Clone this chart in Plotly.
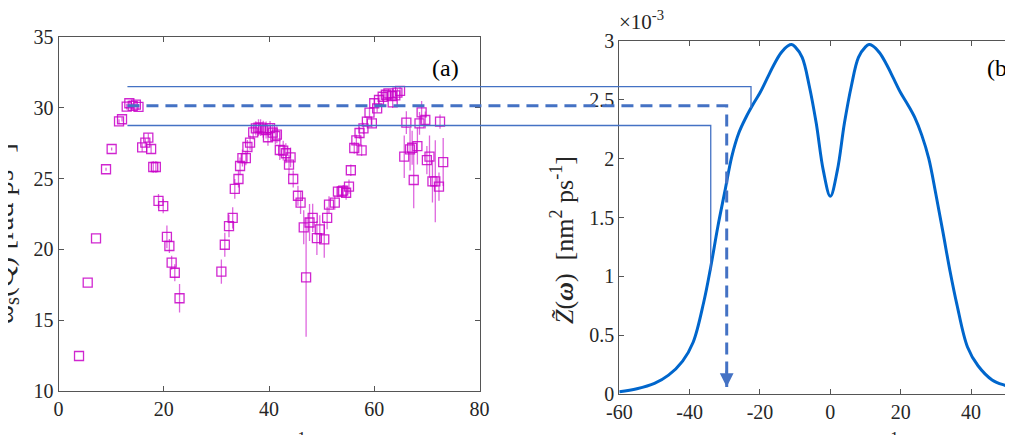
import plotly.graph_objects as go

# reference window size; the page body adds an 8px margin, so the figure is that much smaller
W, H = 1013, 435
OFF = 8
FW, FH = W - OFF, H - OFF

# ---- panel (a): dispersion data, Q [nm^-1] vs omega_s [rad/ps]
q_vals = [3.9, 5.55, 7.13, 9.03, 10.1, 11.5, 12.07, 12.96, 13.46, 14.1, 14.7, 15.2,
          15.9, 16.5, 17.07, 17.6, 18.0, 18.5, 19.0, 19.9, 20.6, 21.07, 21.5, 22.1, 23.0,
          30.95, 31.6, 32.4, 33.1, 33.5, 34.2, 34.5, 34.95, 35.6, 35.9, 36.4, 37.0, 37.5,
          38.0, 38.4, 38.9, 39.45, 39.8, 40.2, 40.7, 41.2, 41.5, 42.05, 42.7, 43.2, 43.8,
          44.1, 44.6, 45.5, 46.0, 46.6, 47.05, 47.7, 48.3, 49.1, 49.65, 50.5, 51.05, 51.4,
          52.5, 53.1, 53.8, 54.1, 54.65, 55.2, 55.55, 56.2, 56.6, 57.2, 57.6, 57.95, 58.6,
          59.1, 59.55, 60.0, 60.55, 60.9, 61.6, 62.2, 62.7, 63.35, 63.5, 64.0, 64.4, 64.9,
          65.7, 66.1, 66.8, 67.2, 67.5, 68.2, 68.6, 69.0, 69.7, 70.0, 70.5, 71.06, 71.6,
          72.3, 72.5, 73.1]
w_vals = [12.47, 17.65, 20.78, 25.66, 27.09, 29.04, 29.19, 30.08, 30.32, 30.13, 30.22, 30.06,
          27.2, 27.54, 27.89, 27.09, 25.82, 25.82, 23.42, 23.06, 20.88, 20.24, 19.06, 18.35, 16.55,
          18.43, 20.33, 21.65, 22.22, 24.27, 24.97, 25.89, 26.45, 26.45, 27.23, 27.54, 28.27, 28.55,
          28.6, 28.6, 28.48, 28.43, 27.92, 28.57, 28.24, 28.0, 28.1, 27.02, 26.97, 26.79, 25.98,
          26.5, 24.97, 23.79, 23.3, 21.56, 18.03, 21.9, 22.22, 20.8, 21.42, 20.71, 22.22, 23.16,
          23.3, 24.08, 24.08, 24.15, 24.0, 24.43, 25.59, 27.16, 27.7, 28.22, 27.0, 28.55, 29.02,
          29.66, 28.9, 30.32, 29.96, 30.55, 30.78, 30.92, 31.02, 30.83, 30.39, 30.88, 31.07, 31.19,
          26.55, 28.95, 27.07, 27.18, 24.9, 27.3, 28.9, 29.68, 29.14, 26.31, 26.55, 24.81, 24.81,
          24.43, 29.02, 26.17]
w_err = [0, 0, 0, 0.1, 0.1, 0.15, 0.15, 0.2, 0.2, 0.2, 0.2, 0.2,
         0.3, 0.3, 0.3, 0.3, 0.4, 0.4, 0.5, 0.5, 0.8, 0.5, 0.5, 0.6, 1.0,
         0.85, 0.85, 0.8, 0.75, 0.7, 0.6, 0.6, 0.6, 0.5, 0.5, 0.5, 0.5, 0.5,
         0.6, 0.6, 0.6, 0.6, 0.6, 0.5, 0.6, 0.6, 0.6, 0.7, 0.7, 0.7, 0.7,
         0.7, 0.6, 0.7, 0.8, 1.2, 4.2, 1.3, 1.0, 1.2, 1.0, 1.3, 0.8, 0.6,
         0.5, 0.4, 0.4, 0.4, 0.5, 0.5, 0.4, 0.4, 0.4, 0.4, 0.4, 0.4, 0.3,
         0.3, 0.3, 0.3, 0.3, 0.3, 0.3, 0.3, 0.3, 0.3, 0.4, 0.3, 0.3, 0.3,
         1.5, 0.8, 1.5, 1.2, 2.0, 1.3, 0.8, 0.8, 0.6, 1.0, 1.5, 1.5, 2.9,
         1.0, 0.5, 1.7]

# ---- panel (b): Z(omega) curve, values in units of 1e-3 nm^2/ps
om_vals = [-60, -55, -50, -46, -42, -39, -36, -34, -32, -30, -28, -26, -24, -22, -20,
           -18, -16, -14, -12, -11, -10, -8, -6, -4, -2, 0, 2, 4, 6, 8, 10, 11, 12, 14,
           16, 18, 20, 22, 24, 26, 28, 30, 32, 34, 36, 39, 42, 46, 50, 52]
z_vals = [0.02, 0.045, 0.09, 0.16, 0.28, 0.44, 0.78, 1.08, 1.42, 1.72, 2.02, 2.22, 2.35,
          2.46, 2.56, 2.68, 2.80, 2.90, 2.96, 2.97, 2.95, 2.86, 2.62, 2.30, 1.90, 1.68,
          1.90, 2.30, 2.62, 2.86, 2.95, 2.97, 2.96, 2.90, 2.80, 2.68, 2.56, 2.46, 2.35,
          2.20, 2.00, 1.70, 1.38, 1.05, 0.76, 0.40, 0.24, 0.12, 0.07, 0.05]

# connector guides: omega_s level (a) -> omega position and Z end (b)
guide_level = [31.5, 30.15, 28.75]
guide_q0 = [13.1, 13.1, 13.1]
guide_om = [-22.55, -29.46, -34.0]
guide_zend = [2.43, 0.06, 1.05]
guide_dash = ["solid", "dash", "solid"]

xt_a = [0, 20, 40, 60, 80]
yt_a = [10, 15, 20, 25, 30, 35]
xt_b = [-60, -40, -20, 0, 20, 40]
xt_b_txt = ["-60", "-40", "-20", "0", "20", "40"]
yt_b = [0, 0.5, 1, 1.5, 2, 2.5, 3]


def px(p):
    return (p - OFF) / FW


def py(p):
    return 1 - (p - OFF) / FH


# layout geometry (from reference pixels)
xa_dom = [px(58.5), px(479.5)]
ya_dom = [py(391), py(37)]
xb_dom = [px(619.3), 1.0]
yb_dom = [py(394), py(41)]
xa_rng = [0, 80]
ya_rng = [10, 35]
xb_rng = [-60, -60 + (W - 619.3) / 3.517]
yb_rng = [0, 3]


def lin(v, rng, dom):
    return dom[0] + (v - rng[0]) / (rng[1] - rng[0]) * (dom[1] - dom[0])


FONT = "Liberation Serif, Times New Roman, Times, serif"
TXT = "#262626"
AX = "#555555"
BLUE = "#4472C4"

fig = go.Figure()

fig.add_trace(go.Scatter(
    x=q_vals, y=w_vals, mode="markers",
    error_y=dict(type="data", array=w_err, width=0, thickness=1.3,
                 color="rgba(200,0,200,0.6)"),
    marker=dict(symbol="square-open", size=9, color="rgba(200,0,200,0.85)",
                line=dict(width=1.3)),
    xaxis="x", yaxis="y", showlegend=False,
))

fig.add_trace(go.Scatter(
    x=om_vals, y=z_vals, mode="lines", line=dict(color="#0066CC", width=3, shape="spline"),
    xaxis="x2", yaxis="y2", showlegend=False,
))

shapes = []
for lev, q0, om, ze, ds in zip(guide_level, guide_q0, guide_om, guide_zend, guide_dash):
    xs = lin(q0, xa_rng, xa_dom)
    xe = lin(om, xb_rng, xb_dom)
    ys = lin(lev, ya_rng, ya_dom)
    ye = lin(ze, yb_rng, yb_dom)
    wd = 3 if ds == "dash" else 1.3
    dash = "12px,7px" if ds == "dash" else "solid"
    shapes.append(dict(type="path", xref="paper", yref="paper",
                       path=f"M {xs},{ys} L {xe},{ys} L {xe},{ye}",
                       line=dict(color=BLUE, width=wd, dash=dash)))

ax_common = dict(showgrid=False, zeroline=False, showline=True, linecolor=AX, linewidth=1,
                 ticks="inside", ticklen=5, tickcolor=AX, automargin=False,
                 tickfont=dict(family=FONT, size=20, color=TXT))

fig.update_layout(
    width=FW, height=FH, margin=dict(l=0, r=0, t=0, b=0, autoexpand=False),
    paper_bgcolor="white", plot_bgcolor="white",
    font=dict(family=FONT),
    xaxis=dict(domain=xa_dom, range=xa_rng, tickvals=xt_a, mirror="ticks", anchor="y", **ax_common),
    yaxis=dict(domain=ya_dom, range=ya_rng, tickvals=yt_a, mirror="ticks", anchor="x", **ax_common),
    xaxis2=dict(domain=xb_dom, range=xb_rng, tickvals=xt_b, ticktext=xt_b_txt, mirror="ticks",
                anchor="y2", **ax_common),
    yaxis2=dict(domain=yb_dom, range=yb_rng, tickvals=yt_b, anchor="x2", **ax_common),
    shapes=shapes,
)

ann = []
# arrow head at dashed end
ann.append(dict(x=guide_om[1], y=guide_zend[1], xref="x2", yref="y2", ax=0, ay=-18,
                text="", showarrow=True, arrowhead=2, arrowsize=1.1, arrowwidth=2.5,
                arrowcolor=BLUE))
ann.append(dict(x=px(3), y=py(234), xref="paper", yref="paper",
                xanchor="center", yanchor="middle",
                text="ω<sub>s</sub>(Q) [rad ps<sup>-1</sup>]", textangle=-90,
                showarrow=False, font=dict(family=FONT, size=29, color=TXT)))
ann.append(dict(x=px(562), y=py(240), xref="paper", yref="paper",
                xanchor="center", yanchor="middle",
                text="<i>Z̃</i>(<b><i>ω</i></b>)  [nm<sup>2</sup> ps<sup>-1</sup>]", textangle=-90,
                showarrow=False, font=dict(family=FONT, size=26, color=TXT)))
ann.append(dict(x=px(272), y=py(426), xref="paper", yref="paper",
                xanchor="center", yanchor="top",
                text="Q [nm<sup>-1</sup>]", showarrow=False,
                font=dict(family=FONT, size=24, color=TXT)))
ann.append(dict(x=px(852), y=py(426), xref="paper", yref="paper",
                xanchor="center", yanchor="top",
                text="ω [rad ps<sup>-1</sup>]", showarrow=False,
                font=dict(family=FONT, size=24, color=TXT)))
ann.append(dict(x=px(445), y=py(68), xref="paper", yref="paper",
                xanchor="center", yanchor="middle",
                text="(a)", showarrow=False, font=dict(family=FONT, size=24, color="black")))
ann.append(dict(x=px(985), y=py(68), xref="paper", yref="paper",
                xanchor="left", yanchor="middle",
                text="(b)", showarrow=False, font=dict(family=FONT, size=24, color="black")))
ann.append(dict(x=px(617), y=py(36), xref="paper", yref="paper", xanchor="left",
                yanchor="bottom", text="×10<sup>-3</sup>", showarrow=False,
                font=dict(family=FONT, size=21, color=TXT)))
fig.update_layout(annotations=ann)

fig.write_html("out.html")
